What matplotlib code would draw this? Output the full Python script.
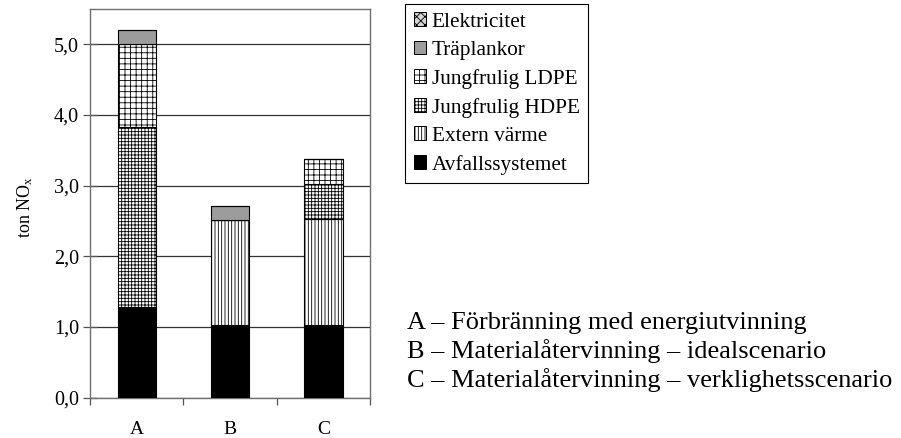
import matplotlib
matplotlib.use("Agg")
import matplotlib.pyplot as plt
from matplotlib.patches import Patch
import numpy as np

plt.rcParams['font.family'] = ['Liberation Serif', 'DejaVu Serif']
plt.rcParams['mathtext.fontset'] = 'custom'
plt.rcParams['mathtext.rm'] = 'Liberation Serif'
plt.rcParams['mathtext.it'] = 'Liberation Serif:italic'
plt.rcParams['hatch.linewidth'] = 0.6

# Scenarios and emission sources (ton NOx)
scenarios = ["A", "B", "C"]
avfallssystemet = [1.28, 1.02, 1.02]
extern_varme = [0.00, 1.49, 1.50]
jungfrulig_hdpe = [2.55, 0.00, 0.50]
jungfrulig_ldpe = [1.17, 0.00, 0.36]
traplankor = [0.20, 0.20, 0.00]
elektricitet = [0.00, 0.00, 0.00]

scenario_names = [
    "A \u2013 F\u00f6rbr\u00e4nning med energiutvinning",
    "B \u2013 Material\u00e5tervinning \u2013 idealscenario",
    "C \u2013 Material\u00e5tervinning \u2013 verklighetsscenario",
]

yticks = [0.0, 1.0, 2.0, 3.0, 4.0, 5.0]

# Stack order from bottom to top, with fill styles
layers = [
    ("Avfallssystemet", avfallssystemet, dict(facecolor="black", hatch=None)),
    ("Extern v\u00e4rme", extern_varme, dict(facecolor="white", hatch="|||||")),
    ("Jungfrulig HDPE", jungfrulig_hdpe, dict(facecolor="white", hatch="+++++")),
    ("Jungfrulig LDPE", jungfrulig_ldpe, dict(facecolor="white", hatch="+++")),
    ("Tr\u00e4plankor", traplankor, dict(facecolor="#9c9c9c", hatch=None)),
    ("Elektricitet", elektricitet, dict(facecolor="#d4d4d4", hatch="xxxx")),
]

fig = plt.figure(figsize=(9.01, 4.38), dpi=100)
ax = fig.add_axes([90 / 901, 1 - 397.5 / 438, 280.3 / 901, 388.5 / 438])

x = np.arange(len(scenarios))
bottom = np.zeros(len(scenarios))
for name, vals, style in layers:
    vals = np.array(vals)
    ax.bar(x, vals, width=0.41, bottom=bottom, facecolor=style["facecolor"],
           edgecolor="black", hatch=style["hatch"], linewidth=0.8, zorder=3)
    bottom += vals

ax.set_xlim(-0.5, len(scenarios) - 0.5)
ax.set_ylim(0, 5.5)

# Horizontal gridlines
ax.set_yticks(yticks)
ax.set_yticklabels([f"{v:.1f}".replace(".", ",") for v in yticks], fontsize=14.5)
ax.yaxis.grid(True, color="#333333", linewidth=0.9, zorder=0)
ax.set_axisbelow(True)
ax.tick_params(axis="y", direction="inout", length=10, width=0.9, color="#555555", pad=3)

# Category boundaries as major ticks, names at the minor ticks
ax.set_xticks(np.arange(-0.5, len(scenarios), 1.0))
ax.set_xticklabels([])
ax.set_xticks(x, minor=True)
ax.set_xticklabels(scenarios, minor=True, fontsize=14)
ax.tick_params(axis="x", which="major", direction="out", length=5, width=0.9, color="#555555")
ax.tick_params(axis="x", which="minor", length=0, pad=17)

for s in ax.spines.values():
    s.set_color("#707070")
    s.set_linewidth(1.0)

ax.set_ylabel("ton NO$_\\mathrm{x}$", fontsize=13)
ax.yaxis.set_label_coords(-0.195, 0.49)

# Legend, top source first
handles = [Patch(facecolor=style["facecolor"], edgecolor="black", hatch=style["hatch"],
                 linewidth=0.7, label=name) for name, _, style in layers][::-1]
leg = fig.legend(handles=handles, loc="upper left", bbox_to_anchor=(405 / 901, 1 - 4 / 438),
                 fontsize=15.3, frameon=True, fancybox=False, framealpha=1,
                 edgecolor="black", handlelength=0.6, handleheight=0.6,
                 handletextpad=0.25, labelspacing=0.42, borderpad=0.4, borderaxespad=0)
leg.get_frame().set_linewidth(0.8)

for i, line in enumerate(scenario_names):
    fig.text(407 / 901, 1 - (329 + 29 * i) / 438, line, fontsize=19,
             ha="left", va="baseline")

fig.savefig("out.png", dpi=100)
